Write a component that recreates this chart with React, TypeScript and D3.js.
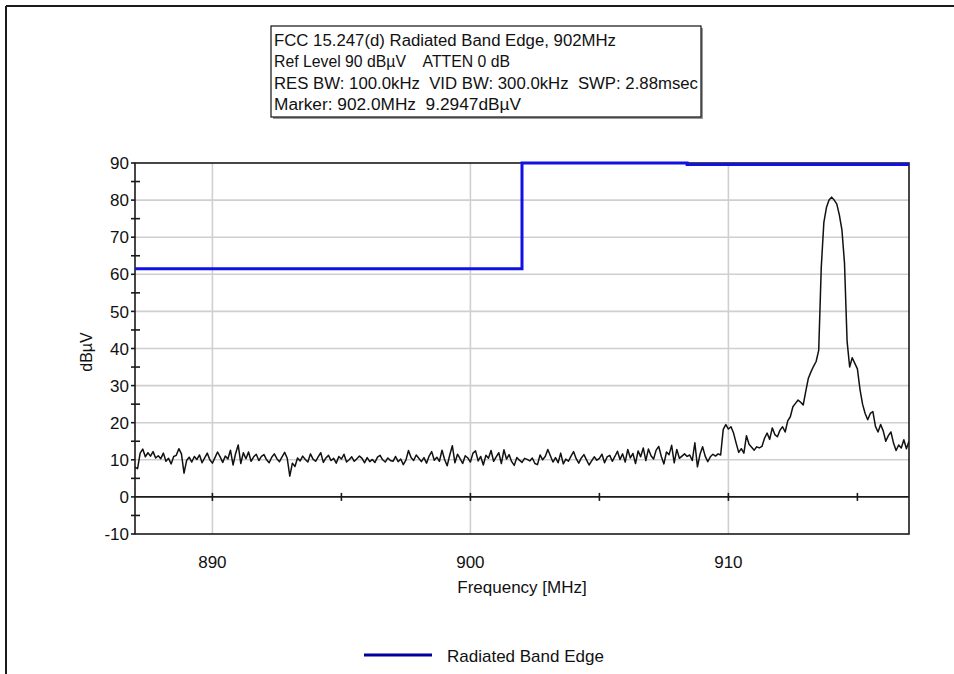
import React from 'react';
import * as d3 from 'd3';

// ---------- data ----------
const headerLines = [
  'FCC 15.247(d) Radiated Band Edge, 902MHz',
  'Ref Level 90 dBµV    ATTEN 0 dB',
  'RES BW: 100.0kHz  VID BW: 300.0kHz  SWP: 2.88msec',
  'Marker: 902.0MHz  9.2947dBµV',
];
const yTickValues = [-10, 0, 10, 20, 30, 40, 50, 60, 70, 80, 90];
const yMinorTicks = [-5, 5, 15, 25, 35, 45, 55, 65, 75, 85];
const xTickValues = [890, 900, 910];
const xAxisMarks = [890, 895, 900, 905, 910, 915];
const freqDomain = [887, 917];
const levelDomain = [-10, 90];

// Radiated band edge limit line
const limitFreqs = [887, 902, 902, 908.4, 908.4, 917];
const limitLevels = [61.5, 61.5, 90, 90, 89.6, 89.6];

// measured trace: sweep starting at 887 MHz, 0.1 MHz per point
const traceStart = 887;
const traceStep = 0.1;
const traceLevels = [
  8.0, 7.6, 11.8, 12.9, 10.8, 11.9, 11.0, 12.2, 10.5, 11.1,
  10.3, 11.8, 9.6, 10.4, 8.9, 10.9, 11.2, 13.0, 11.6, 6.4,
  9.8, 10.7, 9.4, 10.9, 10.1, 11.3, 9.2, 10.5, 11.8, 10.0,
  9.1, 10.6, 12.1, 10.8, 9.3, 11.0, 10.2, 12.6, 8.6, 11.7,
  14.0, 9.0, 11.9, 10.3, 12.1, 9.6, 10.8, 11.5, 9.8, 10.9,
  11.4, 10.0, 9.2, 10.7, 11.6, 10.3, 9.5, 10.8, 12.0, 10.4,
  5.6, 9.1, 8.2, 10.5, 9.7, 11.0, 10.1, 9.4, 11.6, 10.2,
  9.6, 10.8, 11.9, 9.3, 10.5, 11.2, 9.8, 10.4, 9.1, 10.9,
  10.2, 11.5, 9.4, 10.0, 10.8, 9.6, 10.3, 11.0, 10.4, 9.2,
  10.6, 9.5, 10.1, 9.3, 10.7, 11.2, 10.0, 9.4, 10.5, 9.8,
  9.6, 10.9, 9.5, 10.2, 8.7, 9.9, 12.5, 10.6, 9.8, 11.3,
  10.4, 9.5, 10.6, 9.1, 11.0, 12.2, 9.9, 10.7, 9.6, 12.6,
  10.1, 8.4, 11.3, 13.8, 9.2, 11.5, 10.3, 9.0, 11.1, 10.5,
  9.4, 11.8, 12.4, 9.7, 10.9, 8.6, 11.2, 10.4, 12.5, 9.6,
  10.8, 11.9, 9.0, 12.7, 10.2, 11.4, 9.5, 8.5, 10.6, 9.9,
  9.3, 10.4, 10.1, 9.7, 10.5, 9.0, 8.7, 11.3, 10.0, 10.9,
  12.8, 11.1, 9.4, 10.6, 9.2, 11.8, 8.9, 10.2, 9.6, 11.0,
  12.2, 10.3, 9.1, 10.5, 11.4, 10.0, 8.6, 9.7, 10.8, 9.9,
  10.4, 11.5, 9.2, 10.8, 11.2, 9.6, 10.9, 12.3, 10.1, 11.6,
  9.4, 12.8, 10.5, 11.7, 9.0, 12.4, 10.8, 13.2, 9.8, 12.9,
  11.1, 10.2, 12.6, 13.6, 10.9, 8.9, 12.1, 11.4, 13.9, 9.2,
  12.8, 10.4, 11.0, 11.6, 10.9, 11.3, 9.8, 14.6, 8.1, 11.5,
  13.5, 11.0, 9.5, 10.8, 11.5, 11.0, 11.6, 11.3, 18.2, 19.5,
  18.3, 18.9, 17.2, 14.5, 12.0, 13.0, 11.8, 16.5, 14.2, 13.4,
  12.6, 13.5, 13.2, 13.6, 15.8, 17.2, 15.5, 18.6, 16.8, 16.2,
  18.0, 18.9, 17.5, 20.5, 21.6, 24.3, 25.2, 26.1, 25.5, 24.8,
  28.5, 32.0, 33.7, 35.2, 36.5, 39.5, 62.0, 74.0, 78.0, 80.0,
  80.8, 80.0, 79.0, 76.0, 72.0, 63.0, 42.0, 35.0, 37.5, 36.0,
  34.5, 29.0, 25.0, 22.5, 20.8, 22.5, 23.0, 19.0, 17.5, 19.5,
  17.8, 15.0, 16.5, 17.5, 14.5, 12.5, 14.0, 13.2, 15.4, 13.0,
  15.0,
];
const legendLabel = 'Radiated Band Edge';
const xAxisTitle = 'Frequency [MHz]';
const yAxisTitle = 'dBµV';

// ---------- component ----------
const FONT = '"Liberation Sans", Arial, Helvetica, sans-serif';

export default function App() {
  const W = 954;
  const H = 674;
  const L = 135, R = 909, T = 163, B = 534;
  const x = d3.scaleLinear().domain(freqDomain).range([L, R]);
  const y = d3.scaleLinear().domain(levelDomain).range([B, T]);

  const tracePts: [number, number][] = traceLevels.map((v, i) => [traceStart + i * traceStep, v]);
  const traceLine = d3.line<[number, number]>().x(d => x(d[0])).y(d => y(d[1]));
  const limitPts: [number, number][] = limitFreqs.map((f, i) => [f, limitLevels[i]]);
  const limitLine = d3.line<[number, number]>().x(d => x(d[0])).y(d => y(d[1]));

  const headerWidths = [342, 236, 424, 247];
  const grid = '#cfcfcf';

  return (
    <svg width={W} height={H} style={{ position: 'absolute', left: 0, top: 0, display: 'block', background: '#fff' }}
      fontFamily={FONT}>
      <defs>
        <clipPath id="plotClip">
          <rect x={L} y={T - 3} width={R - L} height={B - T + 3} />
        </clipPath>
      </defs>
      {/* outer panel border */}
      <line x1={6} y1={6} x2={W} y2={6} stroke="#1a1a1a" strokeWidth={2} />
      <line x1={6} y1={6} x2={6} y2={H} stroke="#1a1a1a" strokeWidth={2} />

      {/* header box */}
      <rect x={273} y={28} width={430} height={91} fill="#9a9a9a" />
      <rect x={271} y={26} width={430} height={91} fill="#fff" stroke="#111" strokeWidth={1.2} />
      {headerLines.map((t, i) => (
        <text key={i} x={274} y={46 + i * 21.3} fontSize={16} fill="#111" style={{ whiteSpace: 'pre' }}
          xmlSpace="preserve" textLength={headerWidths[i]} lengthAdjust="spacingAndGlyphs">{t}</text>
      ))}

      {/* grid */}
      {yTickValues.filter(v => v !== 0 && v !== -10 && v !== 90).map(v => (
        <line key={'gy' + v} x1={L} x2={R} y1={y(v)} y2={y(v)} stroke={grid} strokeWidth={1.6} />
      ))}
      {xTickValues.map(v => (
        <line key={'gx' + v} x1={x(v)} x2={x(v)} y1={T} y2={B} stroke={grid} strokeWidth={1.6} />
      ))}

      {/* frame */}
      <rect x={L} y={T} width={R - L} height={B - T} fill="none" stroke="#1a1a1a" strokeWidth={1.6} />
      {/* zero axis */}
      <line x1={L} x2={R} y1={y(0)} y2={y(0)} stroke="#1a1a1a" strokeWidth={1.8} />
      {xAxisMarks.map(v => (
        <line key={'xm' + v} x1={x(v)} x2={x(v)} y1={y(0) - 4} y2={y(0) + 4} stroke="#1a1a1a" strokeWidth={1.6} />
      ))}
      {/* y ticks */}
      {yTickValues.map(v => (
        <line key={'yt' + v} x1={L - 4} x2={L} y1={y(v)} y2={y(v)} stroke="#1a1a1a" strokeWidth={1.6} />
      ))}
      {yMinorTicks.map(v => (
        <line key={'ym' + v} x1={L - 4} x2={L + 5} y1={y(v)} y2={y(v)} stroke="#1a1a1a" strokeWidth={1.6} />
      ))}

      {/* trace */}
      <g clipPath="url(#plotClip)">
        <path d={traceLine(tracePts) || ''} fill="none" stroke="#111" strokeWidth={1.5} strokeLinejoin="round" />
        <path d={limitLine(limitPts) || ''} fill="none" stroke="#1111e6" strokeWidth={3} />
      </g>

      {/* y labels */}
      {yTickValues.map(v => (
        <text key={'yl' + v} x={129} y={y(v)} dy="0.36em" textAnchor="end" fontSize={17} fill="#111">{v}</text>
      ))}
      {xTickValues.map(v => (
        <text key={'xl' + v} x={x(v)} y={568} textAnchor="middle" fontSize={17} fill="#111">{v}</text>
      ))}
      <text x={522} y={593} textAnchor="middle" fontSize={17} fill="#111">{xAxisTitle}</text>
      <text transform="translate(92,352) rotate(-90)" textAnchor="middle" fontSize={16} fill="#111">{yAxisTitle}</text>

      {/* legend */}
      <line x1={364} x2={432} y1={655} y2={655} stroke="#00009c" strokeWidth={3} />
      <text x={447} y={662} fontSize={17} fill="#111">{legendLabel}</text>
    </svg>
  );
}
